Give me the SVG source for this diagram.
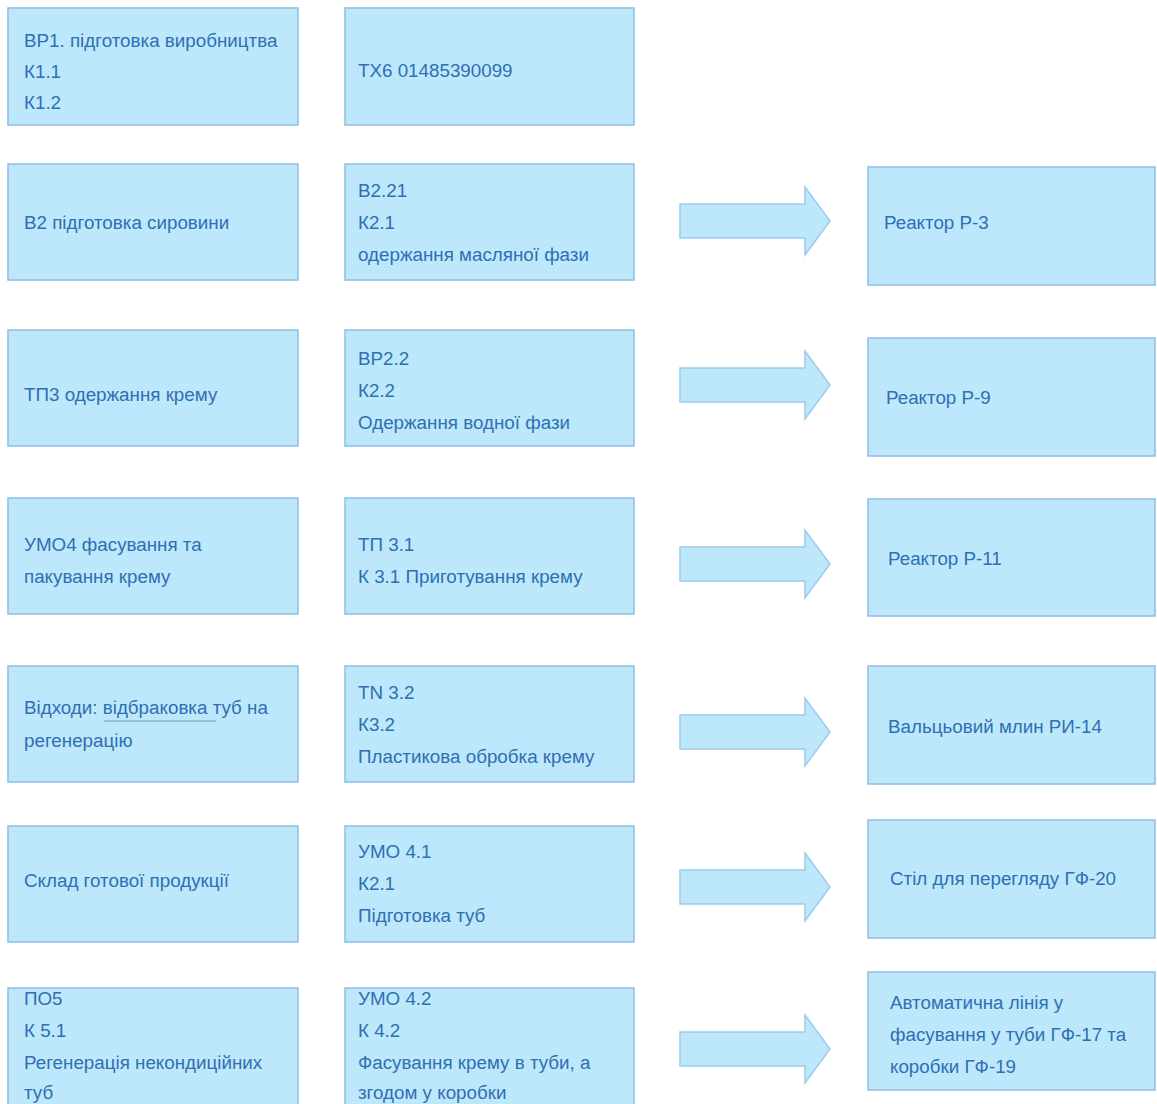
<svg xmlns="http://www.w3.org/2000/svg" width="1157" height="1104" viewBox="0 0 1157 1104">
<style>
.box{fill:#bde8fb;stroke:#8dbde4;stroke-width:1.5}
.t{font-family:"Liberation Sans",Arial,sans-serif;font-size:18.8px;fill:#2f6fb3}
.arr{fill:#bde8fb;stroke:#9ccbec;stroke-width:1.5}
</style>
<rect width="1157" height="1104" fill="#ffffff"/>
<g id="connectors">
<path class="arr" d="M680 204H805V187L830 221L805 255V238H680Z"/>
<path class="arr" d="M680 368H805V351L830 385L805 419V402H680Z"/>
<path class="arr" d="M680 547H805V530L830 564L805 598V581H680Z"/>
<path class="arr" d="M680 715H805V698L830 732L805 766V749H680Z"/>
<path class="arr" d="M680 870H805V853L830 887L805 921V904H680Z"/>
<path class="arr" d="M680 1032H805V1015L830 1049L805 1083V1066H680Z"/>
</g>
<g id="n-vr1"><rect class="box" x="8" y="8" width="290" height="117"/>
<text class="t" x="24" y="47">ВР1. підготовка виробництва</text><text class="t" x="24" y="78">К1.1</text><text class="t" x="24" y="109">К1.2</text></g>
<g id="n-tx6"><rect class="box" x="345" y="8" width="289" height="117"/>
<text class="t" x="358" y="77">ТХ6 01485390099</text></g>
<g id="n-v2"><rect class="box" x="8" y="164" width="290" height="116"/>
<text class="t" x="24" y="229">В2 підготовка сировини</text></g>
<g id="n-v221"><rect class="box" x="345" y="164" width="289" height="116"/>
<text class="t" x="358" y="197">В2.21</text><text class="t" x="358" y="229">К2.1</text><text class="t" x="358" y="261">одержання масляної фази</text></g>
<g id="n-r3"><rect class="box" x="868" y="167" width="287" height="118"/>
<text class="t" x="884" y="229">Реактор Р-3</text></g>
<g id="n-tp3"><rect class="box" x="8" y="330" width="290" height="116"/>
<text class="t" x="24" y="401">ТП3 одержання крему</text></g>
<g id="n-vr22"><rect class="box" x="345" y="330" width="289" height="116"/>
<text class="t" x="358" y="365">ВР2.2</text><text class="t" x="358" y="397">К2.2</text><text class="t" x="358" y="429">Одержання водної фази</text></g>
<g id="n-r9"><rect class="box" x="868" y="338" width="287" height="118"/>
<text class="t" x="886" y="404">Реактор Р-9</text></g>
<g id="n-umo4"><rect class="box" x="8" y="498" width="290" height="116"/>
<text class="t" x="24" y="551">УМО4 фасування та</text><text class="t" x="24" y="583">пакування крему</text></g>
<g id="n-tp31"><rect class="box" x="345" y="498" width="289" height="116"/>
<text class="t" x="358" y="551">ТП 3.1</text><text class="t" x="358" y="583">К 3.1 Приготування крему</text></g>
<g id="n-r11"><rect class="box" x="868" y="499" width="287" height="117"/>
<text class="t" x="888" y="565">Реактор Р-11</text></g>
<g id="n-vidkhody"><rect class="box" x="8" y="666" width="290" height="116"/>
<text class="t" x="24" y="714">Відходи: відбраковка туб на</text><text class="t" x="24" y="747">регенерацію</text>
<line x1="104" y1="721" x2="216" y2="721" stroke="#7d98b3" stroke-width="1"/></g>
<g id="n-tn32"><rect class="box" x="345" y="666" width="289" height="116"/>
<text class="t" x="358" y="699">ТN 3.2</text><text class="t" x="358" y="731">К3.2</text><text class="t" x="358" y="763">Пластикова обробка крему</text></g>
<g id="n-ri14"><rect class="box" x="868" y="666" width="287" height="118"/>
<text class="t" x="888" y="733">Вальцьовий млин РИ-14</text></g>
<g id="n-sklad"><rect class="box" x="8" y="826" width="290" height="116"/>
<text class="t" x="24" y="887">Склад готової продукції</text></g>
<g id="n-umo41"><rect class="box" x="345" y="826" width="289" height="116"/>
<text class="t" x="358" y="858">УМО 4.1</text><text class="t" x="358" y="890">К2.1</text><text class="t" x="358" y="922">Підготовка туб</text></g>
<g id="n-gf20"><rect class="box" x="868" y="820" width="287" height="118"/>
<text class="t" x="890" y="885">Стіл для перегляду ГФ-20</text></g>
<g id="n-po5"><rect class="box" x="8" y="988" width="290" height="120"/>
<text class="t" x="24" y="1005">ПО5</text><text class="t" x="24" y="1037">К 5.1</text><text class="t" x="24" y="1069">Регенерація некондиційних</text><text class="t" x="24" y="1099">туб</text></g>
<g id="n-umo42"><rect class="box" x="345" y="988" width="289" height="120"/>
<text class="t" x="358" y="1005">УМО 4.2</text><text class="t" x="358" y="1037">К 4.2</text><text class="t" x="358" y="1069">Фасування крему в туби, а</text><text class="t" x="358" y="1099">згодом у коробки</text></g>
<g id="n-gf17"><rect class="box" x="868" y="972" width="287" height="118"/>
<text class="t" x="890" y="1009">Автоматична лінія у</text><text class="t" x="890" y="1041">фасування у туби ГФ-17 та</text><text class="t" x="890" y="1073">коробки ГФ-19</text></g>
</svg>
